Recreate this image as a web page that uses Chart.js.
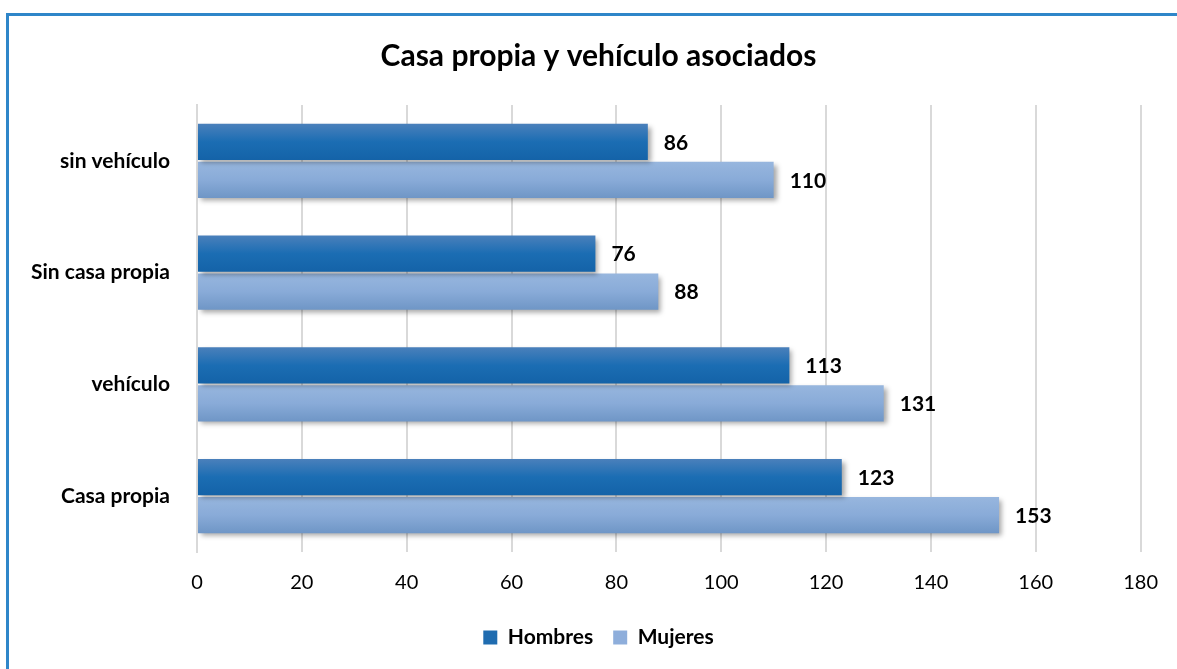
<!DOCTYPE html>
<html>
<head>
<meta charset="utf-8">
<script src="https://cdn.jsdelivr.net/npm/chart.js@4"></script>
<style>
  html, body { margin: 0; padding: 0; background: #fff; }
  #wrap { position: relative; width: 1177px; height: 669px; }
  #frame {
    position: absolute; left: 6px; top: 13px; right: 0; bottom: 0;
    border-top: 3px solid #2f86c9; border-left: 3px solid #2f86c9;
    pointer-events: none;
  }
  canvas { position: absolute; left: 0; top: 0; }
</style>
</head>
<body>
<div id="wrap">
  <canvas id="chart" width="1177" height="669"></canvas>
  <div id="frame"></div>
</div>
<script>
const categories = ["sin vehículo", "Sin casa propia", "vehículo", "Casa propia"];
const hombres = [86, 76, 113, 123];
const mujeres = [110, 88, 131, 153];
const xTicks = [0, 20, 40, 60, 80, 100, 120, 140, 160, 180];

const FONT = "Lato, 'Liberation Sans', sans-serif";

// vertical gradient per bar, plus a soft shadow
const barStyle = {
  id: "barStyle",
  beforeDatasetDraw(chart, args) {
    const ctx = chart.ctx;
    const meta = args.meta;
    const stops = meta.index === 0
      ? [["#4a80bb", 0], ["#1b6db3", 0.5], ["#1463a8", 1]]
      : [["#97b6de", 0], ["#89abd8", 0.5], ["#6f96c6", 1]];
    meta.data.forEach(bar => {
      const top = bar.y - bar.height / 2;
      const g = ctx.createLinearGradient(0, top, 0, top + bar.height);
      stops.forEach(s => g.addColorStop(s[1], s[0]));
      bar.options = Object.assign({}, bar.options, { backgroundColor: g });
    });
    ctx.save();
    ctx.shadowColor = "rgba(0,0,0,0.35)";
    ctx.shadowBlur = 5;
    ctx.shadowOffsetX = 3;
    ctx.shadowOffsetY = 3;
  },
  afterDatasetDraw(chart) {
    chart.ctx.restore();
  }
};

// value labels at the bar ends
const valueLabels = {
  id: "valueLabels",
  afterDatasetsDraw(chart) {
    const ctx = chart.ctx;
    ctx.save();
    ctx.font = "bold 21px " + FONT;
    ctx.fillStyle = "#000";
    ctx.textAlign = "left";
    ctx.textBaseline = "middle";
    chart.data.datasets.forEach((ds, i) => {
      chart.getDatasetMeta(i).data.forEach((bar, j) => {
        ctx.fillText(ds.data[j], bar.x + 16, bar.y + 1);
      });
    });
    ctx.restore();
  }
};

new Chart(document.getElementById("chart").getContext("2d"), {
  type: "bar",
  data: {
    labels: categories,
    datasets: [
      { label: "Hombres", data: hombres, backgroundColor: () => "#1f6cb0" },
      { label: "Mujeres", data: mujeres, backgroundColor: () => "#8eaedb" }
    ]
  },
  options: {
    indexAxis: "y",
    responsive: false,
    animation: false,
    datasets: { bar: { categoryPercentage: 0.68, barPercentage: 0.95 } },
    layout: { padding: { left: 55, right: 35, top: 0, bottom: 11 } },
    scales: {
      x: {
        min: 0, max: 180,
        afterBuildTicks: axis => { axis.ticks = xTicks.map(v => ({ value: v })); },
        afterFit: axis => { axis.height = 55; },
        grid: { color: "#d9d9d9", lineWidth: 2, drawTicks: false },
        border: { display: false },
        ticks: { color: "#000", padding: 19, font: { family: FONT, size: 20 } }
      },
      y: {
        afterFit: axis => {
          axis.width = 142;
          // let the long category names run left of the axis box
          axis._computeLabelArea = () => undefined;
        },
        grid: { display: false, drawTicks: false },
        border: { color: "#d9d9d9", width: 2 },
        ticks: { color: "#000", padding: 27, font: { family: FONT, size: 21, weight: "bold" } }
      }
    },
    plugins: {
      title: {
        display: true,
        text: "Casa propia y vehículo asociados",
        color: "#000",
        font: { family: FONT, size: 30, weight: "bold" },
        padding: { top: 38, bottom: 31 }
      },
      legend: {
        position: "bottom",
        labels: {
          color: "#000",
          boxWidth: 14, boxHeight: 14,
          padding: 20,
          font: { family: FONT, size: 21, weight: "bold" }
        }
      },
      tooltip: { enabled: false }
    }
  },
  plugins: [barStyle, valueLabels]
});
</script>
</body>
</html>
